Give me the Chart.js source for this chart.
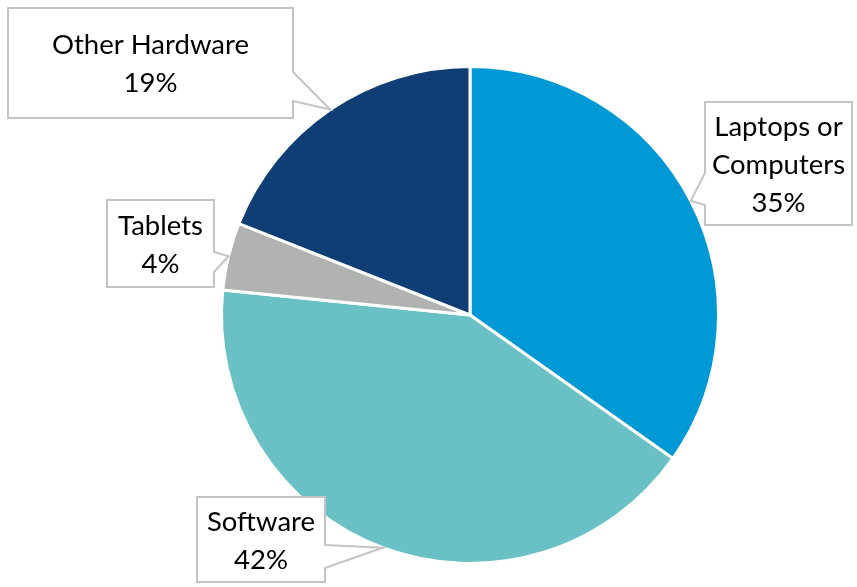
<!DOCTYPE html>
<html>
<head>
<meta charset="utf-8">
<script src="https://cdn.jsdelivr.net/npm/chart.js@4/dist/chart.umd.min.js"></script>
<style>
  html, body { margin: 0; padding: 0; background: #fff; }
  #wrap { width: 857px; height: 587px; }
</style>
</head>
<body>
<div id="wrap"><canvas id="pieChart"></canvas></div>
<script>
const categories = ['Laptops or Computers', 'Software', 'Tablets', 'Other Hardware'];
const shares = [34.8, 41.8, 4.4, 19.0];
const labelLines = [['Laptops or', 'Computers'], ['Software'], ['Tablets'], ['Other Hardware']];

const sliceColors = ['#0099d5', '#6ac1c5', '#b1b3b1', '#0f3e74'];

// callout boxes: x, y, w, h, which side the pointer leaves from, and the pointer base along that side
const callouts = [
  { x: 705, y: 102, w: 147, h: 123, side: 'left', b0: 173, b1: 205 },
  { x: 197, y: 497, w: 128, h: 85, side: 'right', b0: 545, b1: 568 },
  { x: 107, y: 200, w: 107, h: 87, side: 'right', b0: 252, b1: 272 },
  { x: 8, y: 8, w: 285, h: 110, side: 'right', b0: 72, b1: 101 },
];

const calloutPlugin = {
  id: 'callouts',
  afterDatasetsDraw(chart) {
    const ctx = chart.ctx;
    const meta = chart.getDatasetMeta(0);
    meta.data.forEach((arc, i) => {
      const c = callouts[i];
      const mid = (arc.startAngle + arc.endAngle) / 2;
      const tipX = arc.x + Math.cos(mid) * arc.outerRadius;
      const tipY = arc.y + Math.sin(mid) * arc.outerRadius;
      const ex = c.side === 'left' ? c.x : c.x + c.w;

      ctx.save();
      ctx.beginPath();
      if (c.side === 'left') {
        ctx.moveTo(c.x, c.y);
        ctx.lineTo(c.x + c.w, c.y);
        ctx.lineTo(c.x + c.w, c.y + c.h);
        ctx.lineTo(c.x, c.y + c.h);
        ctx.lineTo(c.x, c.b1);
        ctx.lineTo(tipX, tipY);
        ctx.lineTo(c.x, c.b0);
      } else {
        ctx.moveTo(c.x, c.y);
        ctx.lineTo(ex, c.y);
        ctx.lineTo(ex, c.b0);
        ctx.lineTo(tipX, tipY);
        ctx.lineTo(ex, c.b1);
        ctx.lineTo(ex, c.y + c.h);
        ctx.lineTo(c.x, c.y + c.h);
      }
      ctx.closePath();
      ctx.fillStyle = '#ffffff';
      ctx.fill();
      ctx.lineWidth = 2;
      ctx.strokeStyle = '#c4c4c4';
      ctx.stroke();

      const lines = labelLines[i].concat([Math.round(shares[i]) + '%']);
      const lh = 38;
      const cx = c.x + c.w / 2;
      const cy = c.y + c.h / 2 + 1.5;
      ctx.fillStyle = '#000000';
      ctx.font = '27.5px Lato, "Open Sans", sans-serif';
      ctx.textAlign = 'center';
      ctx.textBaseline = 'middle';
      lines.forEach((t, k) => {
        ctx.fillText(t, cx, cy + (k - (lines.length - 1) / 2) * lh);
      });
      ctx.restore();
    });
  }
};

new Chart(document.getElementById('pieChart'), {
  type: 'pie',
  data: {
    labels: categories,
    datasets: [{
      data: shares,
      backgroundColor: sliceColors,
      borderColor: '#ffffff',
      borderWidth: 3,
    }],
  },
  options: {
    responsive: true,
    maintainAspectRatio: false,
    animation: false,
    layout: { padding: { left: 220, right: 137, top: 65, bottom: 22 } },
    plugins: {
      legend: { display: false },
      tooltip: { enabled: false },
    },
  },
  plugins: [calloutPlugin],
});
</script>
</body>
</html>
